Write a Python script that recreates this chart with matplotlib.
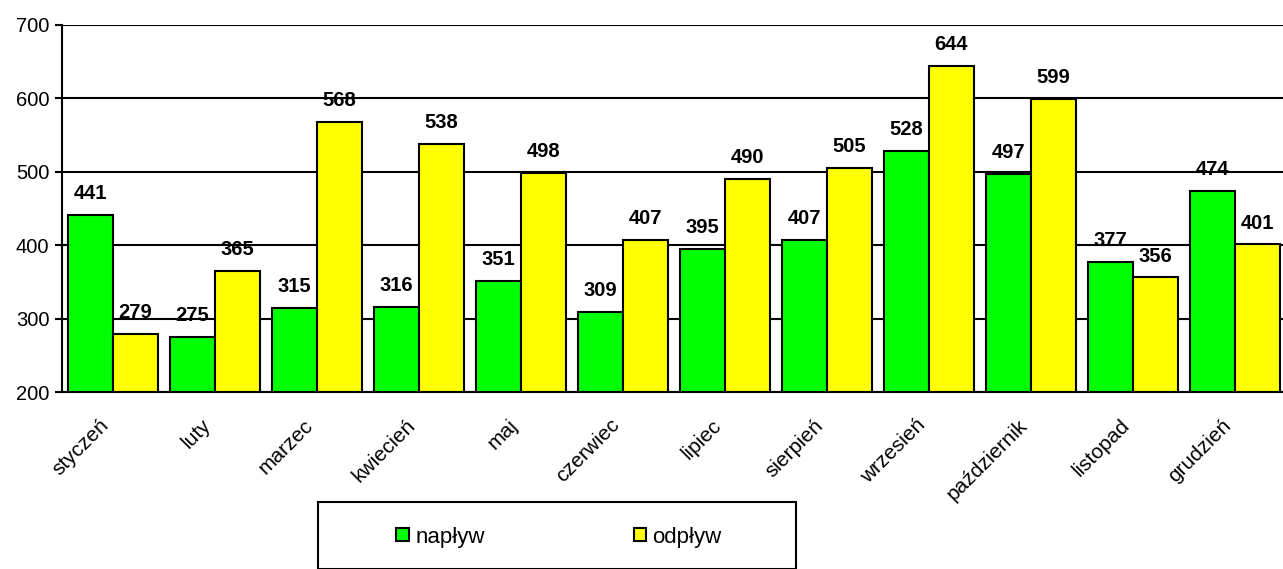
import matplotlib
matplotlib.use('Agg')
import matplotlib.pyplot as plt
from matplotlib.patches import Rectangle, Patch
import numpy as np

plt.rcParams['font.family'] = ['Liberation Sans', 'DejaVu Sans']

months = ['styczeń', 'luty', 'marzec', 'kwiecień', 'maj', 'czerwiec',
          'lipiec', 'sierpień', 'wrzesień', 'październik', 'listopad', 'grudzień']
naplyw = [441, 275, 315, 316, 351, 309, 395, 407, 528, 497, 377, 474]
odplyw = [279, 365, 568, 538, 498, 407, 490, 505, 644, 599, 356, 401]
yticks = [200, 300, 400, 500, 600, 700]

W, H = 1283, 569
fig = plt.figure(figsize=(W / 100, H / 100), dpi=100)
ax = fig.add_axes([62 / W, 1 - 392 / H, 1224 / W, 367 / H])

x = np.arange(len(months))
bw = 0.44
b1 = ax.bar(x - bw / 2, np.array(naplyw) - 200, bw, bottom=200, color='#00ff00',
            edgecolor='black', linewidth=1.5, zorder=3)
b2 = ax.bar(x + bw / 2, np.array(odplyw) - 200, bw, bottom=200, color='#ffff00',
            edgecolor='black', linewidth=1.5, zorder=3)

for bars, vals in ((b1, naplyw), (b2, odplyw)):
    for r, v in zip(bars, vals):
        ax.annotate(str(v), (r.get_x() + r.get_width() / 2, v), xytext=(0, 8.5),
                    textcoords='offset points', ha='center', va='bottom',
                    fontsize=14.5, fontweight='bold', zorder=4)

ax.set_xlim(-0.5, len(months) - 0.5)
ax.set_ylim(200, 700)
ax.set_yticks(yticks)
ax.yaxis.grid(True, color='black', linewidth=1.5, zorder=1)
ax.set_axisbelow(True)
for s in ('top', 'right'):
    ax.spines[s].set_visible(False)
ax.spines['left'].set_linewidth(1.5)
ax.spines['bottom'].set_linewidth(1.5)
ax.tick_params(axis='y', length=5, width=1.5, labelsize=14.5, pad=4)
ax.tick_params(axis='x', length=0, labelsize=15, pad=17)
ax.set_xticks(x)
ax.set_xticklabels(months, rotation=45, ha='right')

# legend frame runs off the bottom edge
fig.patches.append(Rectangle((318 / W, 0), (796 - 318) / W, (569 - 502) / H,
                             transform=fig.transFigure, fill=False,
                             edgecolor='black', linewidth=1.5))
handles = [Patch(facecolor='#00ff00', edgecolor='black', linewidth=1.5),
           Patch(facecolor='#ffff00', edgecolor='black', linewidth=1.5)]
fig.legend(handles, ['napływ', 'odpływ'], loc='center',
           bbox_to_anchor=(559 / W, 1 - 537 / H), ncol=2, frameon=False,
           fontsize=16, handlelength=0.55, handleheight=0.55, handletextpad=0.3,
           columnspacing=6.7)

fig.savefig('out.png', dpi=100)
plt.close(fig)
